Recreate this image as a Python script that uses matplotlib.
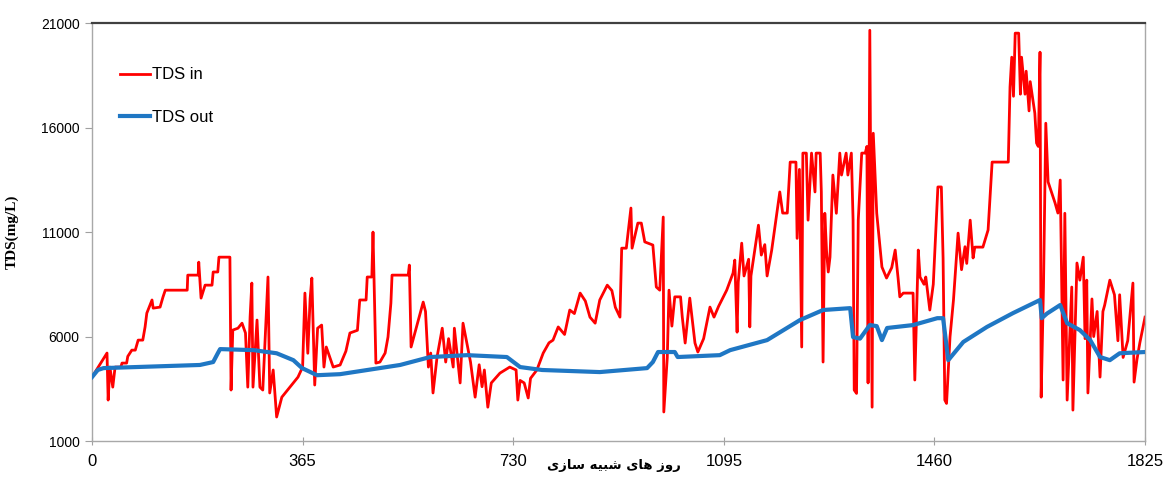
import matplotlib
matplotlib.use('Agg')
import matplotlib.pyplot as plt
from matplotlib.transforms import blended_transform_factory

plt.rcParams['font.family'] = ['Liberation Sans', 'DejaVu Sans']

# simulated days / TDS (mg/L)
days_in = [0, 26, 28, 31, 36, 40, 50, 52, 60, 62, 69, 75, 80, 88, 92, 95, 104, 106, 118, 123, 127,
           165, 166, 184, 185,
           189, 196, 208, 210, 218, 220, 239, 241, 244, 253, 260, 266, 270, 274, 277, 279, 286, 291,
           296, 305, 308, 314, 320, 329, 357, 365, 369, 374, 378, 381, 386, 391, 398, 402, 406, 418,
           430, 440, 447, 460, 464, 475, 477, 485, 487, 492, 499, 508, 513, 518, 520, 548, 550, 553,
           574, 578,
           583, 587, 591, 598, 607, 613, 618, 626, 628, 638, 643, 651, 656, 664, 671, 676, 680, 686,
           692, 707, 724, 735, 738, 742, 749, 756, 760, 771, 782, 792, 799, 808, 819, 828, 836, 846,
           855, 863, 872, 880, 893, 901, 907, 915, 918, 926, 934, 936, 946, 952, 958, 972, 978, 984,
           990, 991, 997, 1000, 1005, 1010, 1020, 1023, 1028, 1036, 1045, 1050, 1060, 1071, 1078,
           1086, 1100, 1111, 1114, 1118, 1120, 1126, 1130, 1138, 1140, 1142, 1155, 1160, 1166, 1170,
           1178, 1187, 1192, 1197, 1205, 1210, 1220, 1222, 1226, 1230, 1232, 1238, 1241, 1247, 1253,
           1255, 1262, 1264, 1267, 1270, 1273, 1276, 1279, 1284, 1290, 1296, 1299, 1307, 1310, 1316,
           1319, 1321, 1325, 1328, 1334, 1340, 1343, 1345, 1348, 1352, 1354, 1360, 1369, 1377, 1386,
           1392, 1397, 1400, 1406, 1423, 1426, 1432, 1435, 1442, 1445, 1452, 1458, 1464, 1466, 1472,
           1475, 1478, 1481, 1487, 1493, 1501, 1507, 1513, 1516, 1522, 1527, 1530, 1544, 1553, 1560,
           1588, 1591, 1594, 1597, 1600, 1606, 1609, 1611, 1617, 1619, 1624, 1626, 1634, 1637, 1640,
           1643, 1645, 1649, 1653, 1657, 1663, 1669, 1674, 1678, 1683, 1686, 1690, 1698, 1700, 1707,
           1712, 1718, 1721, 1724, 1726, 1733, 1736, 1742, 1747, 1752, 1755, 1764, 1772, 1778, 1781,
           1787, 1795, 1804, 1806, 1811, 1816, 1825]
tds_in = [4060, 5210, 2960, 4540, 3580, 4540, 4540, 4730, 4730, 5050, 5350, 5350, 5830, 5830, 6460,
          7120, 7750, 7360, 7410, 7890,
          8220, 8220, 8940, 8940, 9560, 7840, 8460, 8460, 9090, 9090, 9800, 9800, 3440, 6310, 6400,
          6640, 6170, 3580, 6930, 8560, 3580, 6790, 3580, 3440, 8850, 3300, 4400, 2150, 3100, 4060,
          4540, 8080, 5200, 7800, 8800, 3680, 6400, 6550, 4540, 5500, 4540, 4640, 5300, 6170, 6300,
          7750, 7750, 8850, 8850, 11000, 4730, 4780, 5210, 5980, 7600, 8940, 8940, 9420, 5500, 7650,
          7200, 4540,
          5210, 3300, 5020, 6400, 4780, 5900, 4540, 6400, 3780, 6640, 5500, 4780, 3100, 4650, 3600,
          4400, 2620, 3780, 4250, 4540, 4400, 2960, 3900, 3780, 3060, 4000, 4400, 5210, 5700, 5830,
          6460, 6100, 7270, 7100, 8080, 7700, 6930, 6640, 7750, 8460, 8200, 7400, 6930, 10230, 10230,
          12150, 10230, 11430, 11430, 10530, 10380, 8370, 8220, 11720, 2390, 5000, 8220, 6500, 7900,
          7900, 6930, 5690, 7840, 5690, 5260, 5900, 7410, 6930, 7450, 8220, 9040, 9660, 6210, 8600,
          10470, 8900, 9700, 6460, 8900, 11330, 9900, 10400, 8900, 10140, 11910, 12920, 11910, 11910,
          14350, 14350, 10700, 14000, 5500, 14780, 14780, 11570, 14780, 12920, 14780, 14780, 12920,
          4780, 11900, 10100, 9090, 9800, 13730, 11900, 14780, 13730, 14780, 13730, 14780, 11570,
          3440, 3280, 11570, 14780, 14780, 15100, 3780, 20660, 2620, 15730, 11900, 9330, 8800, 9300,
          10140, 8800, 7900, 8080, 8080, 3920, 10140, 8850, 8500, 8850, 7270, 8500, 11960, 13160,
          13160, 9760, 2960, 2800, 5980, 7750, 10950, 9200, 10300, 9500, 11570, 9760, 10280, 10280,
          11100, 14350, 14350, 17940, 19370, 17500, 20520, 20520, 17600, 19370, 17600, 18700, 16800,
          18200, 16690, 15260, 15100, 19610, 3100, 8370, 16210, 13400, 12900, 12400, 11910, 13490,
          3920, 11900, 2960, 8370, 2480, 9520, 8700, 9800, 5900, 8700, 3300, 7800, 6000, 7200, 4060,
          7200, 7500, 8700, 8000, 5800, 8000, 5000, 5800, 8560, 3820, 4900, 5700, 6930]

days_out = [0, 10, 20, 187, 210, 218, 222, 280, 320, 349, 364, 390, 430, 534, 586, 650, 719, 742,
            780, 880, 962, 972, 981, 1010, 1015, 1088, 1106, 1170, 1227, 1267, 1314, 1319, 1331,
            1348, 1360, 1369, 1378, 1423, 1465, 1475, 1484, 1510, 1551, 1596, 1643, 1646, 1655,
            1678, 1690, 1712, 1730, 1747, 1764, 1781, 1825]
tds_out = [4060, 4400, 4490, 4640, 4780, 5200, 5400, 5350, 5200, 4870, 4490, 4150, 4200, 4640,
           5020, 5110, 5020, 4540, 4400, 4300, 4490, 4780, 5260, 5260, 5020, 5110, 5350, 5830, 6790,
           7270, 7360, 5975, 5900, 6550, 6500, 5830, 6410, 6550, 6880, 6880, 4870, 5740, 6460, 7120,
           7750, 6880, 7100, 7510, 6640, 6310, 5830, 5020, 4870, 5200, 5260]

x_ticks = [0, 365, 730, 1095, 1460, 1825]
y_ticks = [1000, 6000, 11000, 16000, 21000]

# "روز های شبیه سازی" written with presentation forms in visual order (no shaping in matplotlib)
x_label = '\uFBFC\uFEAF\uFE8E\uFEB3 \uFEEA\uFBFF\uFE92\uFEB7 \uFBFC\uFE8E\uFEEB \uFEAF\uFEED\uFEAD'

fig = plt.figure(figsize=(11.69, 4.82), dpi=100)
ax = fig.add_axes([0.0787, 0.085, 0.9008, 0.867])

ax.plot(days_in, tds_in, color='#FF0000', linewidth=2.0, label='TDS in', zorder=2)
ax.plot(days_out, tds_out, color='#1F77C4', linewidth=3.0, label='TDS out', zorder=3)

ax.set_xlim(0, 1825)
ax.set_ylim(1000, 21000)
ax.set_xticks(x_ticks)
ax.set_yticks(y_ticks)
ax.tick_params(axis='x', direction='inout', length=6, color='#A0A0A0', labelsize=12, pad=6)
ax.tick_params(axis='y', direction='out', length=5, color='#A0A0A0', labelsize=10, pad=4)

for side in ['left', 'bottom', 'right']:
    ax.spines[side].set_color('#A8A8A8')
    ax.spines[side].set_linewidth(1.0)
ax.spines['top'].set_color('#404040')
ax.spines['top'].set_linewidth(1.6)

ax.set_ylabel('TDS(mg/L)', family=['Liberation Serif', 'DejaVu Serif'], fontweight='bold',
              fontsize=11, labelpad=16)

trans = blended_transform_factory(ax.transData, ax.transAxes)
ax.text(905, -0.058, x_label, transform=trans, ha='center', va='center',
        family=['DejaVu Sans'], fontweight='bold', fontsize=9.5)

ax.legend(loc='upper left', bbox_to_anchor=(0.012, 0.93), frameon=False, fontsize=12,
          handlelength=1.8, handletextpad=0.15, labelspacing=1.65)

plt.savefig('out.png', dpi=100)
plt.close()
